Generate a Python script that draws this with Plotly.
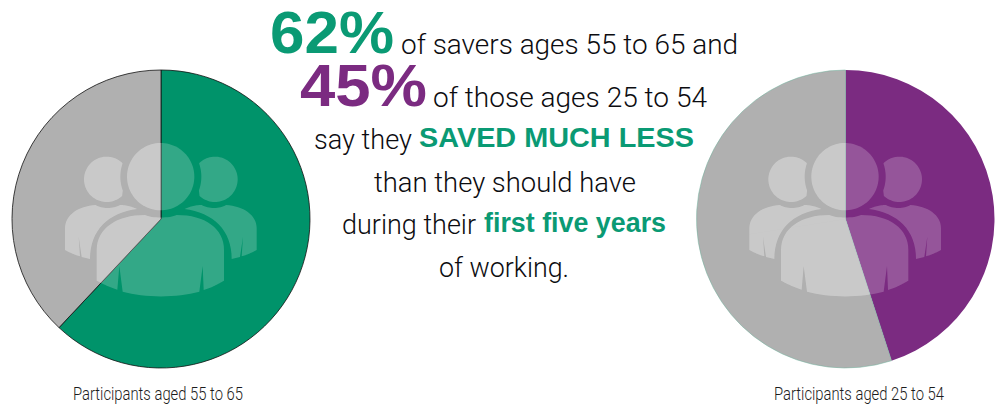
import json
import math
import numpy as np
import plotly.graph_objects as go

# Survey shares
older_share = [62, 38]
younger_share = [45, 55]
older_caption = "Participants aged 55 to 65"
younger_caption = "Participants aged 25 to 54"

GREEN = "#00936a"
GREEN_TEXT = "#0a9a74"
PURPLE = "#7b2b81"
GREY = "#b0b0b0"
INK = "#0c0c10"
LIGHT_FONT = "Roboto"
BOLD_FONT = "Liberation Sans"
W, H = 1000, 406
PIE_SIZE = 298
PIE_TOP = 70
PIE_LEFT = (12, 696.5)


def pie_domain(left, top, size):
    return dict(x=[left / W, (left + size) / W], y=[1 - (top + size) / H, 1 - top / H])


def pie(values, colors, widths, line_colors, left):
    return go.Pie(
        values=values, sort=False, direction="clockwise", rotation=0,
        marker=dict(colors=colors, line=dict(color=line_colors, width=widths)),
        textinfo="none", hoverinfo="skip", showlegend=False,
        domain=pie_domain(left, PIE_TOP, PIE_SIZE),
    )


fig = go.Figure([
    pie(older_share, [GREEN, GREY], [0.8, 0.8], ["#111", "#111"], PIE_LEFT[0]),
    pie(younger_share, [PURPLE, GREY], [0, 0.5], [PURPLE, "#6fb39c"], PIE_LEFT[1]),
])


# --- People glyph -----------------------------------------------------------
# Outlines are authored on a 3x grid, flattened to polygons, then scaled to page pixels.
def arc(cx, cy, r, a0, a1, n=48):
    t = np.radians(np.linspace(a0, a1, n))
    return list(zip(cx + r * np.cos(t), cy + r * np.sin(t)))


def flatten(cmds):
    pts = []
    for kind, ctrl in cmds:
        if kind == "L":
            pts.extend(ctrl)
        else:
            p0 = pts[-1]
            p1, p2, p3 = ctrl
            for t in np.linspace(0, 1, 17)[1:]:
                u = 1 - t
                pts.append((u**3 * p0[0] + 3 * u * u * t * p1[0] + 3 * u * t * t * p2[0] + t**3 * p3[0],
                            u**3 * p0[1] + 3 * u * u * t * p1[1] + 3 * u * t * t * p2[1] + t**3 * p3[1]))
    return pts


FRONT_BODY = flatten([
    ("L", [(290, 662), (290, 570)]),
    ("C", [(290, 505), (350, 465), (435, 465)]),
    ("C", [(455, 475), (510, 475), (530, 465)]),
    ("C", [(615, 465), (672, 505), (672, 570)]),
    ("L", [(672, 662)]),
    ("C", [(655, 672), (635, 683), (611, 690)]),
    ("L", [(608, 618), (598, 695)]),
    ("C", [(530, 714), (435, 714), (368, 695)]),
    ("L", [(358, 618), (352, 689)]),
    ("C", [(330, 682), (310, 673), (290, 662)]),
])
BACK_BODY = flatten([
    ("L", [(195, 570), (195, 505)]),
    ("C", [(195, 465), (235, 438), (287, 435)]),
    ("C", [(305, 447), (340, 447), (360, 435)]),
    ("C", [(380, 435), (398, 441), (412, 447)]),
    ("C", [(325, 458), (270, 510), (270, 597)]),
    ("L", [(245, 591), (236, 530), (240, 589)]),
    ("C", [(225, 585), (210, 578), (195, 570)]),
])
REAR_HEAD = arc(320, 358, 68, 47, 313, 64) + arc(482, 350, 121, 199, 160, 24)
FRONT_HEAD = arc(482, 350, 101, 0, 360, 96)


def glyph_polygons(dx):
    flip = lambda poly: [(965 - x, y) for x, y in poly]
    polys = [FRONT_HEAD, FRONT_BODY, BACK_BODY, flip(BACK_BODY), REAR_HEAD, flip(REAR_HEAD)]
    return [[(x / 3 + dx, y / 3 + 60) for x, y in poly] for poly in polys]


def clip_half(poly, cx, cy, nx, ny):
    """Keep the part of a polygon on the positive side of a line through (cx, cy)."""
    out = []
    side = lambda p: (p[0] - cx) * nx + (p[1] - cy) * ny
    for a, b in zip(poly, poly[1:] + poly[:1]):
        sa, sb = side(a), side(b)
        if sa >= 0:
            out.append(a)
        if sa * sb < 0:
            t = sa / (sa - sb)
            out.append((a[0] + t * (b[0] - a[0]), a[1] + t * (b[1] - a[1])))
    return out


def clip_wedge(poly, cx, cy, start, end):
    # start / end are clockwise angles from twelve o'clock, spanning under 180 degrees
    s, e = math.radians(start), math.radians(end)
    # Inward normals of the two wedge edges in page coordinates (y down)
    out = clip_half(poly, cx, cy, math.cos(s), math.sin(s))
    if out:
        out = clip_half(out, cx, cy, -math.cos(e), -math.sin(e))
    return out


def to_path(poly):
    return "M" + " L".join(f"{x:.2f},{y:.2f}" for x, y in poly) + " Z"


def grey_wedges(share):
    start = share[0] / sum(share) * 360
    span = 360 - start
    n = 1 if span < 170 else 2
    edges = np.linspace(start, 360, n + 1)
    return list(zip(edges[:-1], edges[1:]))


shapes = []
for left, dx, share in ((PIE_LEFT[0], 0, older_share), (PIE_LEFT[1], 684.33, younger_share)):
    cx, cy = left + PIE_SIZE / 2, PIE_TOP + PIE_SIZE / 2
    for poly in glyph_polygons(dx):
        shapes.append(dict(type="path", path=to_path(poly), xref="x", yref="y", layer="above",
                           fillcolor="rgba(255,255,255,0.2)", line=dict(width=0)))
        # The glyph reads a little brighter where it crosses the grey slice
        for a, b in grey_wedges(share):
            part = clip_wedge(poly, cx, cy, a, b)
            if len(part) > 2:
                shapes.append(dict(type="path", path=to_path(part), xref="x", yref="y", layer="above",
                                   fillcolor="rgba(255,255,255,0.16)", line=dict(width=0)))


# --- Headline text ----------------------------------------------------------
fitted_widths = {}


def label(x, base, text, size, color=INK, bold=False, width=None, weight=300):
    # Placed by the centre of the line box, worked out from the wanted baseline
    family = BOLD_FONT if bold else LIGHT_FONT
    centre_offset = 0.3625 if bold else 0.351
    fig.add_annotation(
        x=x, y=base - size * centre_offset, xref="x", yref="y",
        text=text, showarrow=False, xanchor="left", yanchor="middle",
        borderpad=0, borderwidth=0, align="left",
        font=dict(family=family, size=size, color=color, weight=700 if bold else weight),
    )
    if width:
        fitted_widths[text] = width


label(270, 54, f"{older_share[0]}%", 60, GREEN_TEXT, True, 124)
label(401, 54, "of savers ages 55 to 65 and", 28, width=337)
label(300, 107, f"{younger_share[0]}%", 60, PURPLE, True, 127)
label(433, 107, "of those ages 25 to 54", 28, width=274)
label(314, 149, "say they", 28, width=98)
label(419, 148, "SAVED MUCH LESS", 28, GREEN_TEXT, True, 275)
label(374, 192, "than they should have", 28, width=262)
label(342, 234, "during their", 28, width=134)
label(484, 233, "first five years", 28, GREEN_TEXT, True, 182)
label(439, 277, "of working.", 28, width=130)

label(73, 400.5, older_caption, 19, "#1c1c1c", width=170)
label(774, 400.5, younger_caption, 19, "#1c1c1c", width=170)

fig.update_layout(
    width=W, height=H, margin=dict(l=0, r=0, t=0, b=0),
    paper_bgcolor="white", plot_bgcolor="rgba(0,0,0,0)", shapes=shapes,
    xaxis=dict(range=[0, W], visible=False, fixedrange=True),
    yaxis=dict(range=[H, 0], visible=False, fixedrange=True),
)

# Fit each line of copy to its measure so the condensed captions and headline set correctly
fit_script = """
var widths = %s;
document.querySelectorAll('.annotation-text').forEach(function (t) {
  var w = widths[t.textContent];
  if (w) { t.setAttribute('textLength', w); t.setAttribute('lengthAdjust', 'spacingAndGlyphs'); }
});
""" % json.dumps(fitted_widths)

fig.write_html("out.html", config={"displayModeBar": False}, post_script=fit_script)
